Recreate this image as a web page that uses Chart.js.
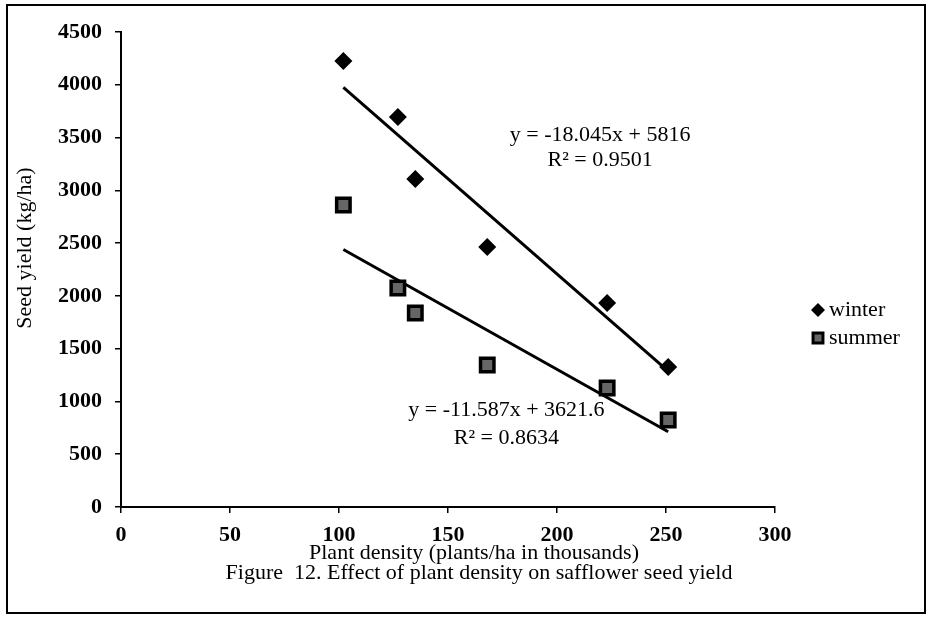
<!DOCTYPE html>
<html>
<head>
<meta charset="utf-8">
<title>Plant density and safflower seed yield</title>
<script src="https://cdn.jsdelivr.net/npm/chart.js@4.4.1/dist/chart.umd.min.js"></script>
<style>
  html, body { margin: 0; padding: 0; background: #fff; }
  #wrap { width: 933px; height: 620px; }
</style>
</head>
<body>
<div id="wrap"><canvas id="myChart" width="933" height="620"></canvas></div>
<script>
// plant density (thousand plants/ha) and seed yield (kg/ha)
const density = [102, 127, 135, 168, 223, 251];
const winterYield = [4225, 3695, 3107, 2463, 1933, 1326];
const summerYield = [2861, 2075, 1838, 1345, 1127, 824];

// linear fits: slope, intercept, R²
const winterFit = [-18.045, 5816, 0.9501];
const summerFit = [-11.587, 3621.6, 0.8634];

const xTicks = [0, 50, 100, 150, 200, 250, 300];
const yTicks = [0, 500, 1000, 1500, 2000, 2500, 3000, 3500, 4000, 4500];

const serif = '"Liberation Serif", "Times New Roman", serif';
const cxt = document.querySelector("#myChart");

function points(ys) {
  return density.map((d, i) => ({ x: d, y: ys[i] }));
}

function fitLine(fit) {
  const lo = Math.min(...density);
  const hi = Math.max(...density);
  return [lo, hi].map((d) => ({ x: d, y: fit[0] * d + fit[1] }));
}

function eqText(fit) {
  return ["y = " + fit[0] + "x + " + fit[1], "R\u00b2 = " + fit[2]];
}

// axis titles, equation labels, legend, caption and frame
const extras = {
  id: "extras",
  afterDraw(chart, args, opts) {
    const { ctx } = chart;
    const x = chart.scales.x;
    const y = chart.scales.y;
    ctx.save();
    ctx.fillStyle = "#000";
    ctx.strokeStyle = "#000";

    ctx.lineWidth = 2;
    ctx.strokeRect(7, 5, 918, 608);

    ctx.font = "22px " + serif;
    ctx.textAlign = "center";
    ctx.textBaseline = "middle";
    opts.equations.forEach((e) => {
      const px = x.getPixelForValue(e.at[0]);
      const py = y.getPixelForValue(e.at[1]);
      ctx.fillText(e.lines[0], px, py);
      ctx.fillText(e.lines[1], px, py + e.gap);
    });

    ctx.fillText(opts.xTitle, 474, 553);
    ctx.fillText(opts.caption, 479, 573);

    ctx.save();
    ctx.translate(25, 248);
    ctx.rotate(-Math.PI / 2);
    ctx.fillText(opts.yTitle, 0, 0);
    ctx.restore();

    ctx.textAlign = "left";
    let ly = opts.legendTop;
    chart.data.datasets
      .filter((ds) => !ds.showLine)
      .forEach((ds) => {
        ctx.fillStyle = ds.backgroundColor;
        ctx.strokeStyle = ds.borderColor;
        ctx.lineWidth = ds.legendBorder;
        Chart.helpers.drawPoint(
          ctx,
          { pointStyle: ds.pointStyle, radius: ds.legendRadius, borderWidth: ds.legendBorder, rotation: 0 },
          818,
          ly
        );
        ctx.fillStyle = "#000";
        ctx.fillText(ds.label, 829, ly);
        ly += 28;
      });
    ctx.restore();
  },
};

const tickFont = { family: serif, size: 22, weight: "bold" };
const axisGrid = { display: true, drawOnChartArea: false, tickLength: 6, color: "#000", lineWidth: 1.5 };
const plainNumber = (v) => String(v);

const config = {
  type: "scatter",
  data: {
    datasets: [
      {
        label: "winter",
        data: points(winterYield),
        pointStyle: "rectRot",
        pointRadius: 9,
        borderWidth: 0,
        backgroundColor: "#000",
        borderColor: "#000",
        legendRadius: 7,
        legendBorder: 0,
      },
      {
        label: "summer",
        data: points(summerYield),
        pointStyle: "rect",
        pointRadius: 9.5,
        borderWidth: 3.5,
        backgroundColor: "#666",
        borderColor: "#000",
        legendRadius: 7,
        legendBorder: 3,
      },
      {
        label: "winter fit",
        data: fitLine(winterFit),
        showLine: true,
        pointRadius: 0,
        borderColor: "#000",
        borderWidth: 3,
      },
      {
        label: "summer fit",
        data: fitLine(summerFit),
        showLine: true,
        pointRadius: 0,
        borderColor: "#000",
        borderWidth: 3,
      },
    ],
  },
  options: {
    responsive: false,
    animation: false,
    events: [],
    layout: { padding: { left: 14, top: 32, right: 158, bottom: 7 } },
    plugins: {
      legend: { display: false },
      tooltip: { enabled: false },
      extras: {
        xTitle: "Plant density (plants/ha in thousands)",
        yTitle: "Seed yield (kg/ha)",
        caption: "Figure  12. Effect of plant density on safflower seed yield",
        legendTop: 310,
        equations: [
          { lines: eqText(winterFit), at: [219.8, 3524], gap: 25 },
          { lines: eqText(summerFit), at: [176.8, 919], gap: 28 },
        ],
      },
    },
    scales: {
      x: {
        type: "linear",
        min: xTicks[0],
        max: xTicks[xTicks.length - 1],
        afterBuildTicks: (s) => { s.ticks = xTicks.map((v) => ({ value: v })); },
        afterFit: (s) => { s.height = 106; },
        ticks: { font: tickFont, color: "#000", padding: 9, maxRotation: 0, callback: plainNumber },
        grid: axisGrid,
        border: { display: true, color: "#000", width: 2 },
      },
      y: {
        type: "linear",
        min: yTicks[0],
        max: yTicks[yTicks.length - 1],
        afterBuildTicks: (s) => { s.ticks = yTicks.map((v) => ({ value: v })); },
        afterFit: (s) => { s.width = 107; },
        ticks: { font: tickFont, color: "#000", padding: 13, callback: plainNumber },
        grid: axisGrid,
        border: { display: true, color: "#000", width: 2 },
      },
    },
  },
  plugins: [extras],
};

new Chart(cxt, config);
</script>
</body>
</html>
